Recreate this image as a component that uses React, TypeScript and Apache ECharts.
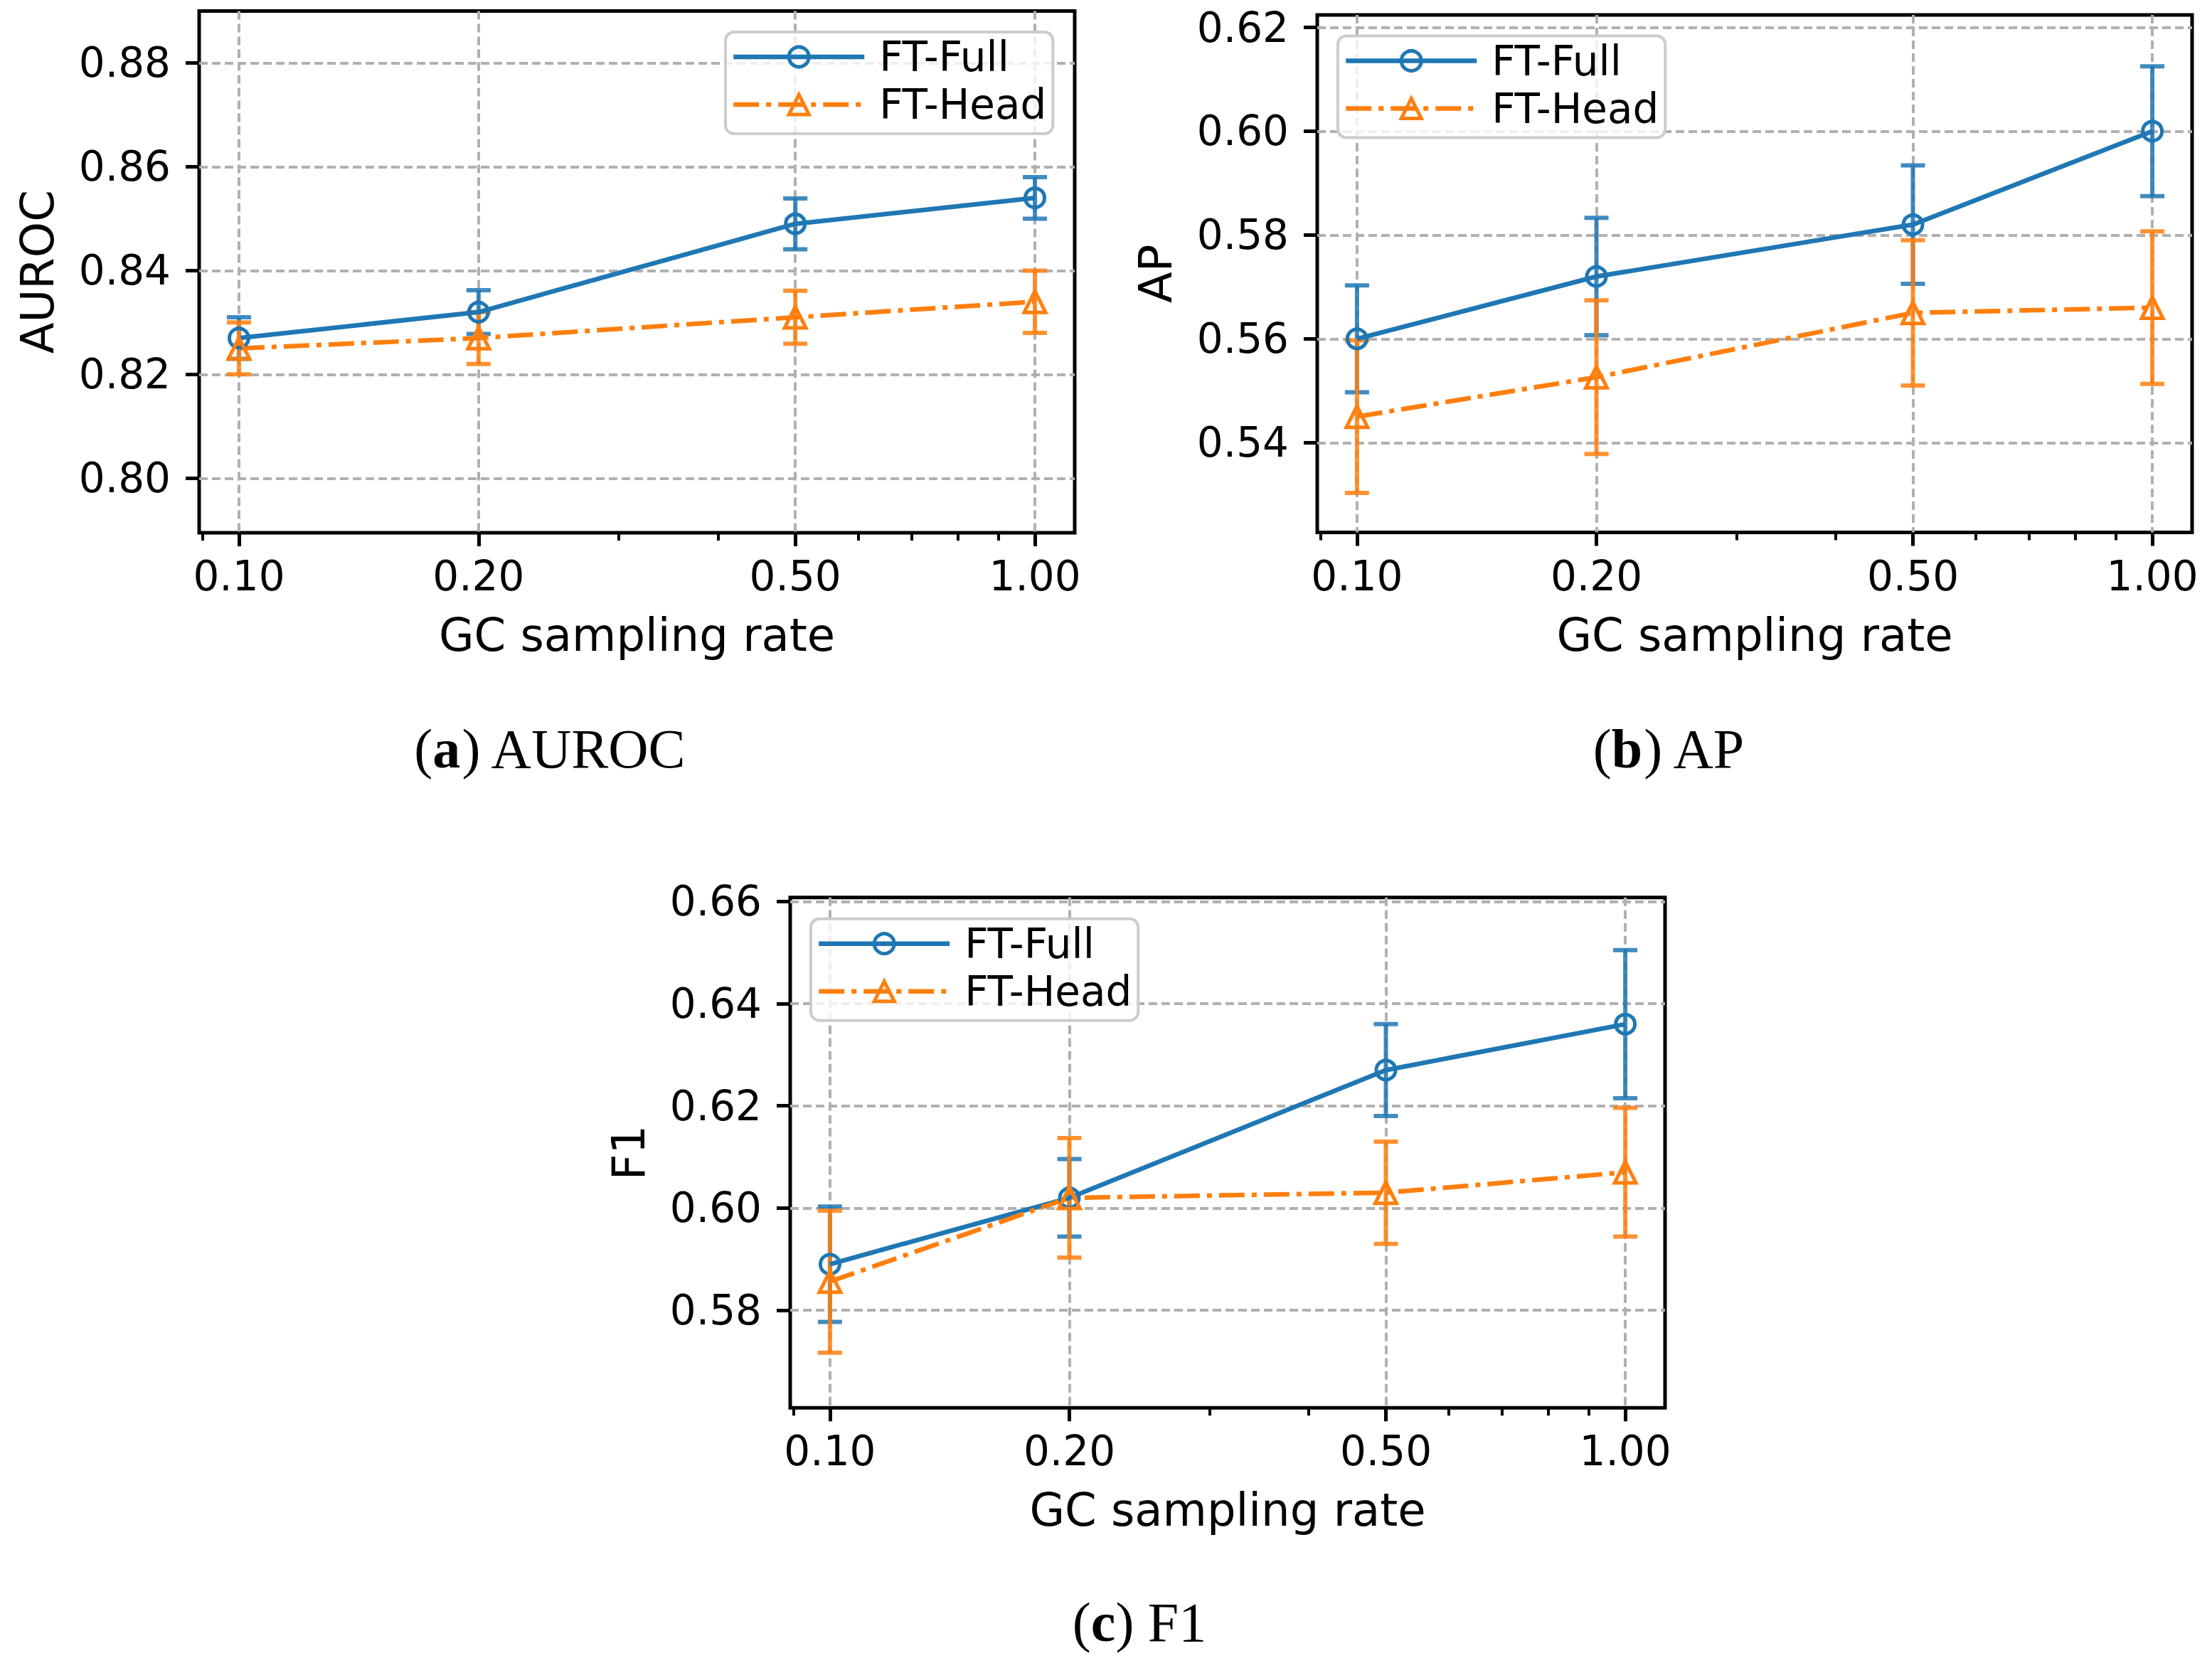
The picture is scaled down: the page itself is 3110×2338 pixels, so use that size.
import { useEffect, useRef } from 'react';
import * as echarts from 'echarts';

const rates = [0.1, 0.2, 0.5, 1.0];
const minorRates = [0.09, 0.3, 0.4, 0.6, 0.7, 0.8, 0.9];

const aurocFull = [0.827, 0.832, 0.849, 0.854];
const aurocFullErr = [0.004, 0.0042, 0.0049, 0.004];
const aurocHead = [0.825, 0.827, 0.831, 0.834];
const aurocHeadErr = [0.005, 0.005, 0.0051, 0.006];

const apFull = [0.56, 0.572, 0.582, 0.6];
const apFullErr = [0.0103, 0.0113, 0.0114, 0.0125];
const apHead = [0.545, 0.5526, 0.565, 0.566];
const apHeadErr = [0.0147, 0.0148, 0.014, 0.0147];

const f1Full = [0.589, 0.602, 0.627, 0.636];
const f1FullErr = [0.0113, 0.0076, 0.009, 0.0145];
const f1Head = [0.5856, 0.602, 0.603, 0.607];
const f1HeadErr = [0.0139, 0.0117, 0.01, 0.0126];

const aurocTicks = [0.8, 0.82, 0.84, 0.86, 0.88];
const apTicks = [0.54, 0.56, 0.58, 0.6, 0.62];
const f1Ticks = [0.58, 0.6, 0.62, 0.64, 0.66];

const BLUE = '#1f77b4';
const ORANGE = '#ff7f0e';
const FONT = 'DejaVu Sans';
const SERIF = "'Liberation Serif', 'DejaVu Serif', serif";

const panels = [
  {
    name: 'AUROC', full: aurocFull, fullErr: aurocFullErr, head: aurocHead, headErr: aurocHeadErr,
    ticks: aurocTicks, yMin: 0.7895, yMax: 0.89,
    grid: { left: 280, top: 15.4, width: 1231, height: 733.6 },
    legend: { left: 1020, top: 45 },
  },
  {
    name: 'AP', full: apFull, fullErr: apFullErr, head: apHead, headErr: apHeadErr,
    ticks: apTicks, yMin: 0.5227, yMax: 0.6224,
    grid: { left: 1852, top: 21, width: 1230, height: 727.5 },
    legend: { left: 1881, top: 50.5 },
  },
  {
    name: 'F1', full: f1Full, fullErr: f1FullErr, head: f1Head, headErr: f1HeadErr,
    ticks: f1Ticks, yMin: 0.5609, yMax: 0.6608,
    grid: { left: 1111, top: 1261.7, width: 1230, height: 717.5 },
    legend: { left: 1140, top: 1291.7 },
  },
];

const captions = [
  { label: 'a', text: 'AUROC', x: 774, y: 1052 },
  { label: 'b', text: 'AP', x: 2347, y: 1052 },
  { label: 'c', text: 'F1', x: 1602, y: 2280 },
];

const gridLine = { color: '#b0b0b0', width: 4, type: [12, 6] };

function errorBars(color: string) {
  return (_params: any, api: any) => {
    const x = api.value(0);
    const y = api.value(1);
    const e = api.value(2);
    const top = api.coord([x, y + e]);
    const bot = api.coord([x, y - e]);
    const hw = 17;
    const style = { stroke: color, lineWidth: 6, opacity: 0.85 };
    return {
      type: 'group',
      children: [
        { type: 'line', shape: { x1: top[0], y1: top[1], x2: bot[0], y2: bot[1] }, style },
        { type: 'line', shape: { x1: top[0] - hw, y1: top[1], x2: top[0] + hw, y2: top[1] }, style },
        { type: 'line', shape: { x1: bot[0] - hw, y1: bot[1], x2: bot[0] + hw, y2: bot[1] }, style },
      ],
    };
  };
}

export default function App() {
  const chartRef = useRef<HTMLDivElement>(null);

  useEffect(() => {
    document.body.style.margin = '0';
    if (!chartRef.current) return;
    const chart = echarts.init(chartRef.current, undefined, { renderer: 'svg' });

    const logRates = rates.map((r) => Math.log10(r));
    const logMinor = minorRates.map((r) => Math.log10(r));

    const grids: any[] = [];
    const xAxes: any[] = [];
    const yAxes: any[] = [];
    const series: any[] = [];
    const legends: any[] = [];

    panels.forEach((p, i) => {
      grids.push({ ...p.grid, show: true, borderColor: '#000', borderWidth: 5, backgroundColor: 'transparent' });

      xAxes.push({
        type: 'value',
        gridIndex: i,
        min: -1.05,
        max: 0.05,
        name: 'GC sampling rate',
        nameLocation: 'middle',
        nameGap: 112,
        nameTextStyle: { fontFamily: FONT, fontSize: 64, color: '#000' },
        axisLine: { show: false, onZero: false },
        axisTick: { show: true, customValues: logRates, length: 19, lineStyle: { color: '#000', width: 5 } },
        axisLabel: {
          customValues: logRates,
          formatter: (v: number) => Math.pow(10, v).toFixed(2),
          margin: 32,
          fontFamily: FONT,
          fontSize: 58,
          color: '#000',
        },
        splitLine: { show: true, lineStyle: gridLine },
      });
      xAxes.push({
        type: 'value',
        gridIndex: i,
        min: -1.05,
        max: 0.05,
        position: 'bottom',
        axisLine: { show: false, onZero: false },
        axisTick: { show: true, customValues: logMinor, length: 11, lineStyle: { color: '#000', width: 4 } },
        axisLabel: { show: false },
        splitLine: { show: false },
      });

      yAxes.push({
        type: 'value',
        gridIndex: i,
        min: p.yMin,
        max: p.yMax,
        position: 'left',
        name: p.name,
        nameLocation: 'middle',
        nameGap: 195,
        nameTextStyle: { fontFamily: FONT, fontSize: 64, color: '#000' },
        axisLine: { show: false, onZero: false },
        axisTick: { show: true, customValues: p.ticks, length: 19, lineStyle: { color: '#000', width: 5 } },
        axisLabel: {
          customValues: p.ticks,
          formatter: (v: number) => v.toFixed(2),
          margin: 40,
          fontFamily: FONT,
          fontSize: 58,
          color: '#000',
        },
        splitLine: { show: true, lineStyle: gridLine },
      });

      const xIdx = i * 2;
      series.push({
        type: 'custom',
        name: 'FT-Full err',
        xAxisIndex: xIdx,
        yAxisIndex: i,
        renderItem: errorBars(BLUE),
        encode: { x: 0, y: 1 },
        data: logRates.map((x, k) => [x, p.full[k], p.fullErr[k]]),
      });
      series.push({
        type: 'line',
        name: 'FT-Full',
        xAxisIndex: xIdx,
        yAxisIndex: i,
        symbol: 'circle',
        symbolSize: 27,
        color: BLUE,
        lineStyle: { color: BLUE, width: 6.5 },
        itemStyle: { color: 'rgba(255,255,255,0)', borderColor: BLUE, borderWidth: 5 },
        data: logRates.map((x, k) => [x, p.full[k]]),
      });
      series.push({
        type: 'custom',
        name: 'FT-Head err',
        xAxisIndex: xIdx,
        yAxisIndex: i,
        renderItem: errorBars(ORANGE),
        encode: { x: 0, y: 1 },
        data: logRates.map((x, k) => [x, p.head[k], p.headErr[k]]),
      });
      series.push({
        type: 'line',
        name: 'FT-Head',
        xAxisIndex: xIdx,
        yAxisIndex: i,
        symbol: 'triangle',
        symbolSize: 30,
        color: ORANGE,
        lineStyle: { color: ORANGE, width: 6.5, type: [36, 10, 7, 10] },
        itemStyle: { color: 'rgba(255,255,255,0)', borderColor: ORANGE, borderWidth: 5 },
        data: logRates.map((x, k) => [x, p.head[k]]),
      });

      legends.push({
        data: ['FT-Full', 'FT-Head'],
        orient: 'vertical',
        left: p.legend.left,
        top: p.legend.top,
        itemWidth: 184,
        itemHeight: 35,
        itemGap: 9,
        padding: [6, 9, 12, 8],
        backgroundColor: 'rgba(255,255,255,0.8)',
        borderColor: '#cccccc',
        borderWidth: 4,
        borderRadius: 12,
        selectedMode: false,
        lineStyle: { width: 6.5 },
        itemStyle: { borderWidth: 5 },
        textStyle: { fontFamily: FONT, fontSize: 58, lineHeight: 58, color: '#000', padding: [0, 0, 0, 16] },
      });
    });

    const graphics = captions.map((c) => ({
      type: 'text',
      x: c.x,
      y: c.y,
      style: {
        text: `({b|${c.label}}) ${c.text}`,
        fontFamily: SERIF,
        fontSize: 78,
        fill: '#000',
        align: 'center',
        verticalAlign: 'middle',
        rich: { b: { fontFamily: SERIF, fontSize: 78, fontWeight: 'bold' } },
      },
    }));

    chart.setOption({
      animation: false,
      backgroundColor: '#fff',
      grid: grids,
      xAxis: xAxes,
      yAxis: yAxes,
      legend: legends,
      series,
      graphic: graphics,
    });

    return () => {
      chart.dispose();
    };
  }, []);

  return <div ref={chartRef} style={{ width: 3110, height: 2338 }} />;
}
